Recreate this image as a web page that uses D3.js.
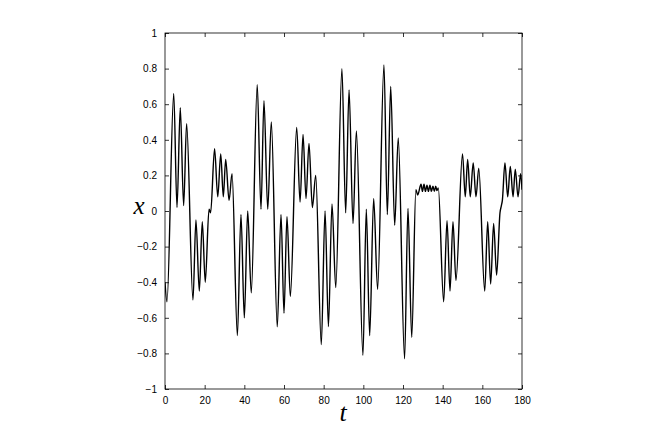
<!DOCTYPE html>
<html>
<head>
<meta charset="utf-8">
<script src="https://cdn.jsdelivr.net/npm/d3@7"></script>
<style>
html,body{margin:0;padding:0;background:#fff;}
svg{display:block;}
</style>
</head>
<body>
<svg id="chart" width="664" height="439"></svg>
<script>
const tValues = [0,1.0,4.4,6.05,7.7,9.4,10.9,14.1,15.6,17.3,18.8,20.3,22.2,23.0,25.0,26.6,28.1,29.4,30.6,32.3,33.8,
  36.5,38.3,40.0,41.7,43.5,46.5,48.4,49.9,51.8,53.6,56.6,58.5,60.0,61.5,63.2,66.4,68.1,69.6,71.1,72.6,74.3,76.0,
  78.8,80.7,82.4,84.2,86.1,89.2,91.1,92.8,94.8,96.5,99.8,101.5,103.2,105.2,107.2,110.4,112.1,113.8,115.8,117.6,
  120.8,122.5,124.4,126.5,127.4,129.1,129.8,130.6,131.3,132.1,132.8,133.6,134.3,135.1,135.8,136.5,137.1,137.8,
  140.5,142.2,143.7,145.2,146.7,150.0,151.4,152.6,153.9,155.4,156.8,158.2,161.2,162.7,164.2,165.7,167.2,
  168.9,169.6,170.1,171.4,172.8,174.1,175.5,176.6,178.0,179.3,180];
const xValues = [-0.40,-0.51,0.66,0.02,0.58,0.03,0.49,-0.50,-0.05,-0.45,-0.06,-0.40,0.01,-0.01,0.35,0.08,0.32,0.08,0.29,0.06,0.21,
  -0.70,-0.02,-0.60,0.00,-0.46,0.71,0.01,0.62,0.01,0.50,-0.65,-0.02,-0.575,-0.03,-0.48,0.47,0.05,0.43,0.07,0.38,0.02,0.20,
  -0.75,0.00,-0.65,0.04,-0.43,0.80,-0.01,0.68,-0.07,0.45,-0.81,0.01,-0.70,0.07,-0.44,0.82,-0.02,0.70,-0.08,0.41,
  -0.83,0.015,-0.71,0.12,0.09,0.15,0.11,0.15,0.11,0.145,0.11,0.145,0.11,0.14,0.11,0.14,0.115,0.13,
  -0.51,-0.055,-0.45,-0.06,-0.39,0.32,0.08,0.29,0.08,0.27,0.08,0.24,-0.45,-0.06,-0.41,-0.07,-0.36,
  -0.01,0.03,0.06,0.27,0.08,0.25,0.08,0.235,0.08,0.21,0.12];
const xTicks = [0,20,40,60,80,100,120,140,160,180];
const yTicks = [-1,-0.8,-0.6,-0.4,-0.2,0,0.2,0.4,0.6,0.8,1];

const svg = d3.select("#chart");
const L = 165, R = 522, T = 33, B = 389;
const xs = d3.scaleLinear().domain([0,180]).range([L,R]);
const ys = d3.scaleLinear().domain([-1,1]).range([B,T]);
const fmt = v => (v < 0 ? "\u2212" : "") + String(Math.abs(+v.toFixed(1)));

const data = tValues.map((t,i)=>({t, x:xValues[i]}));

svg.append("rect").attr("x",L).attr("y",T).attr("width",R-L).attr("height",B-T)
  .attr("fill","#fff");

svg.append("clipPath").attr("id","clp").append("rect")
  .attr("x",L).attr("y",T).attr("width",R-L).attr("height",B-T);

const line = d3.line().x(d=>xs(d.t)).y(d=>ys(d.x)).curve(d3.curveMonotoneX);
svg.append("path").datum(data).attr("d",line).attr("fill","none")
  .attr("stroke","#000").attr("stroke-width",1.4).attr("clip-path","url(#clp)");

const tl = 4;
const fontTick = "Liberation Sans, Arial, Helvetica, sans-serif";
const ax = d3.axisBottom(xs).tickValues(xTicks).tickSizeInner(-tl).tickSizeOuter(0).tickPadding(8).tickFormat(d=>String(d));
const gx = svg.append("g").attr("transform",`translate(0,${B})`).call(ax);
const axT = d3.axisTop(xs).tickValues(xTicks).tickSizeInner(-tl).tickSizeOuter(0).tickFormat("");
const gxt = svg.append("g").attr("transform",`translate(0,${T})`).call(axT);
const ay = d3.axisLeft(ys).tickValues(yTicks).tickSizeInner(-tl).tickSizeOuter(0).tickPadding(8).tickFormat(fmt);
const gy = svg.append("g").attr("transform",`translate(${L},0)`).call(ay);
const ayR = d3.axisRight(ys).tickValues(yTicks).tickSizeInner(-tl).tickSizeOuter(0).tickFormat("");
const gyr = svg.append("g").attr("transform",`translate(${R},0)`).call(ayR);

[gx,gxt,gy,gyr].forEach(g=>{
  g.select(".domain").remove();
  g.selectAll("line").attr("stroke","#000").attr("stroke-width",0.8);
  g.selectAll("text").attr("fill","#000").style("font-family",fontTick).style("font-size","10px");
});

svg.append("rect").attr("x",L).attr("y",T).attr("width",R-L).attr("height",B-T)
  .attr("fill","none").attr("stroke","#000").attr("stroke-width",0.8);

svg.append("text").attr("x",139).attr("y",214).attr("text-anchor","middle")
  .style("font-family","Liberation Serif, Times New Roman, serif").style("font-style","italic")
  .style("font-size","25px").attr("fill","#000").text("x");
svg.append("text").attr("x",343).attr("y",421).attr("text-anchor","middle")
  .style("font-family","Liberation Serif, Times New Roman, serif").style("font-style","italic")
  .style("font-size","26px").attr("fill","#000").text("t");
</script>
</body>
</html>
